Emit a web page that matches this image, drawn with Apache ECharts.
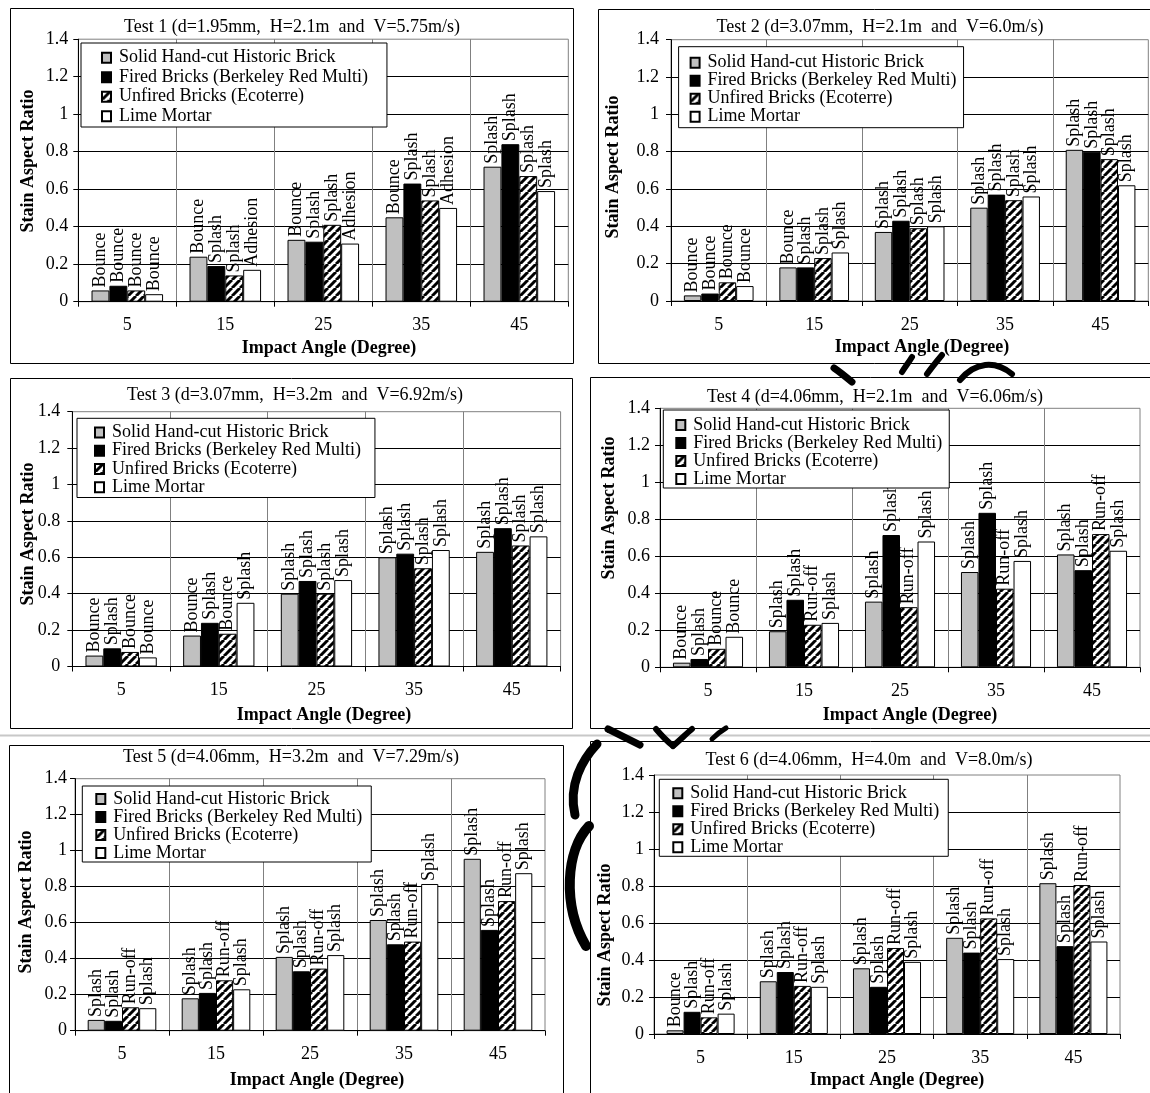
<!DOCTYPE html>
<html>
<head>
<meta charset="utf-8">
<script src="https://cdn.jsdelivr.net/npm/echarts@6/dist/echarts.min.js"></script>
<style>
html, body { margin: 0; padding: 0; background: #fff; }
#chart { width: 1150px; height: 1093px; }
</style>
</head>
<body>
<div id="chart"></div>
<script>
// ---- data -------------------------------------------------------------
const categories = ['5', '15', '25', '35', '45'];
const materials = [
  'Solid Hand-cut Historic Brick',
  'Fired Bricks (Berkeley Red Multi)',
  'Unfired Bricks (Ecoterre)',
  'Lime Mortar'
];
const testTitles = [
  'Test 1 (d=1.95mm,  H=2.1m  and  V=5.75m/s)',
  'Test 2 (d=3.07mm,  H=2.1m  and  V=6.0m/s)',
  'Test 3 (d=3.07mm,  H=3.2m  and  V=6.92m/s)',
  'Test 4 (d=4.06mm,  H=2.1m  and  V=6.06m/s)',
  'Test 5 (d=4.06mm,  H=3.2m  and  V=7.29m/s)',
  'Test 6 (d=4.06mm,  H=4.0m  and  V=8.0m/s)'
];
const xAxisTitle = 'Impact Angle (Degree)';
const yAxisTitle = 'Stain Aspect Ratio';

// Test 1
const t1Solid   = [0.06, 0.24, 0.33, 0.45, 0.72];
const t1Fired   = [0.085, 0.19, 0.32, 0.63, 0.84];
const t1Unfired = [0.06, 0.14, 0.41, 0.54, 0.67];
const t1Lime    = [0.04, 0.17, 0.31, 0.50, 0.59];
const t1SolidMode   = ['Bounce', 'Bounce', 'Bounce', 'Bounce', 'Splash'];
const t1FiredMode   = ['Bounce', 'Splash', 'Splash', 'Splash', 'Splash'];
const t1UnfiredMode = ['Bounce', 'Splash', 'Splash', 'Splash', 'Splash'];
const t1LimeMode    = ['Bounce', 'Adhesion', 'Adhesion', 'Adhesion', 'Splash'];

// Test 2
const t2Solid   = [0.03, 0.18, 0.37, 0.50, 0.81];
const t2Fired   = [0.04, 0.18, 0.43, 0.57, 0.80];
const t2Unfired = [0.10, 0.23, 0.39, 0.54, 0.76];
const t2Lime    = [0.08, 0.26, 0.40, 0.56, 0.62];
const t2SolidMode   = ['Bounce', 'Bounce', 'Splash', 'Splash', 'Splash'];
const t2FiredMode   = ['Bounce', 'Splash', 'Splash', 'Splash', 'Splash'];
const t2UnfiredMode = ['Bounce', 'Splash', 'Splash', 'Splash', 'Splash'];
const t2LimeMode    = ['Bounce', 'Splash', 'Splash', 'Splash', 'Splash'];

// Test 3
const t3Solid   = [0.06, 0.17, 0.40, 0.60, 0.63];
const t3Fired   = [0.10, 0.24, 0.47, 0.62, 0.76];
const t3Unfired = [0.08, 0.18, 0.40, 0.54, 0.665];
const t3Lime    = [0.05, 0.35, 0.475, 0.64, 0.715];
const t3SolidMode   = ['Bounce', 'Bounce', 'Splash', 'Splash', 'Splash'];
const t3FiredMode   = ['Splash', 'Splash', 'Splash', 'Splash', 'Splash'];
const t3UnfiredMode = ['Bounce', 'Bounce', 'Splash', 'Splash', 'Splash'];
const t3LimeMode    = ['Bounce', 'Splash', 'Splash', 'Splash', 'Splash'];

// Test 4
const t4Solid   = [0.025, 0.195, 0.355, 0.515, 0.61];
const t4Fired   = [0.045, 0.365, 0.715, 0.835, 0.525];
const t4Unfired = [0.10, 0.23, 0.325, 0.425, 0.72];
const t4Lime    = [0.165, 0.24, 0.68, 0.575, 0.63];
const t4SolidMode   = ['Bounce', 'Splash', 'Splash', 'Splash', 'Splash'];
const t4FiredMode   = ['Splash', 'Splash', 'Splash', 'Splash', 'Splash'];
const t4UnfiredMode = ['Bounce', 'Run-off', 'Run-off', 'Run-off', 'Run-off'];
const t4LimeMode    = ['Bounce', 'Splash', 'Splash', 'Splash', 'Splash'];

// Test 5
const t5Solid   = [0.06, 0.18, 0.41, 0.615, 0.955];
const t5Fired   = [0.055, 0.21, 0.33, 0.48, 0.56];
const t5Unfired = [0.13, 0.28, 0.345, 0.495, 0.72];
const t5Lime    = [0.125, 0.23, 0.42, 0.815, 0.875];
const t5SolidMode   = ['Splash', 'Splash', 'Splash', 'Splash', 'Splash'];
const t5FiredMode   = ['Splash', 'Splash', 'Splash', 'Splash', 'Splash'];
const t5UnfiredMode = ['Run-off', 'Run-off', 'Run-off', 'Run-off', 'Run-off'];
const t5LimeMode    = ['Splash', 'Splash', 'Splash', 'Splash', 'Splash'];

// Test 6
const t6Solid   = [0.02, 0.285, 0.355, 0.52, 0.815];
const t6Fired   = [0.12, 0.335, 0.255, 0.44, 0.475];
const t6Unfired = [0.09, 0.26, 0.465, 0.625, 0.805];
const t6Lime    = [0.11, 0.255, 0.39, 0.405, 0.50];
const t6SolidMode   = ['Bounce', 'Splash', 'Splash', 'Splash', 'Splash'];
const t6FiredMode   = ['Splash', 'Splash', 'Splash', 'Splash', 'Splash'];
const t6UnfiredMode = ['Run-off', 'Run-off', 'Run-off', 'Run-off', 'Run-off'];
const t6LimeMode    = ['Splash', 'Splash', 'Splash', 'Splash', 'Splash'];

const tests = [
  { values: [t1Solid, t1Fired, t1Unfired, t1Lime], modes: [t1SolidMode, t1FiredMode, t1UnfiredMode, t1LimeMode] },
  { values: [t2Solid, t2Fired, t2Unfired, t2Lime], modes: [t2SolidMode, t2FiredMode, t2UnfiredMode, t2LimeMode] },
  { values: [t3Solid, t3Fired, t3Unfired, t3Lime], modes: [t3SolidMode, t3FiredMode, t3UnfiredMode, t3LimeMode] },
  { values: [t4Solid, t4Fired, t4Unfired, t4Lime], modes: [t4SolidMode, t4FiredMode, t4UnfiredMode, t4LimeMode] },
  { values: [t5Solid, t5Fired, t5Unfired, t5Lime], modes: [t5SolidMode, t5FiredMode, t5UnfiredMode, t5LimeMode] },
  { values: [t6Solid, t6Fired, t6Unfired, t6Lime], modes: [t6SolidMode, t6FiredMode, t6UnfiredMode, t6LimeMode] }
];

// ---- layout of the six panels (pixels) -------------------------------
const layout = [
  { grid: [78.3, 39.2, 490, 262.5],   frame: [10.5, 8.5, 563, 355],  title: [292, 27],  xName: [329, 348],  yName: [28, 161],  yMargin: 10,
    legend: { left: 81, top: 43, pad: [5, 19, 1, 20], row: 19.5 } },
  { grid: [671, 39.7, 477.3, 261.3],  frame: [598.5, 9.5, 600, 354], title: [880, 27],  xName: [922, 347],  yName: [613, 167], yMargin: 12,
    legend: { left: 678.6, top: 46.7, pad: [7, 7, 2, 11], row: 17.3 } },
  { grid: [72.3, 411.7, 488.3, 254.8], frame: [10.5, 378.5, 562, 350], title: [295, 395], xName: [324, 715], yName: [28, 534], yMargin: 12,
    legend: { left: 77, top: 418.3, pad: [5, 14, 1, 17], row: 18.3 } },
  { grid: [660, 408.3, 480, 259],     frame: [590.5, 377.5, 600, 351], title: [875, 397], xName: [910, 715], yName: [609, 508], yMargin: 10,
    legend: { left: 663.3, top: 410, pad: [6, 7, 0, 12], row: 17.8 } },
  { grid: [75, 778.7, 470, 252],      frame: [9.5, 745.5, 554, 400], title: [291, 757], xName: [317, 1080], yName: [26, 902], yMargin: 8,
    legend: { left: 82.3, top: 786, pad: [4, 9, 0, 13], row: 17.7 } },
  { grid: [654, 775, 466, 259],       frame: [590.5, 741.5, 600, 400], title: [869, 760], xName: [897, 1080], yName: [605, 935], yMargin: 10,
    legend: { left: 659.3, top: 779.3, pad: [5, 9, 0, 13], row: 17.8 } }
];

const SERIF = '"Liberation Serif", "Times New Roman", serif';

// wide upward-diagonal hatch used for the unfired bricks
function hatchTile() {
  const s = 8;
  const c = document.createElement('canvas');
  c.width = s; c.height = s;
  const g = c.getContext('2d');
  g.fillStyle = '#fff';
  g.fillRect(0, 0, s, s);
  g.strokeStyle = '#000';
  g.lineWidth = 3;
  for (let k = -1; k <= 1; k++) {
    g.beginPath();
    g.moveTo(k * s, s);
    g.lineTo(k * s + s, 0);
    g.stroke();
  }
  return c;
}

const fills = ['#c0c0c0', '#000000', { image: hatchTile(), repeat: 'repeat' }, '#ffffff'];

const grids = [], xAxes = [], yAxes = [], legends = [], series = [], graphics = [];

layout.forEach((L, i) => {
  grids.push({
    left: L.grid[0], top: L.grid[1], width: L.grid[2], height: L.grid[3],
    show: true, borderColor: '#808080', borderWidth: 1, backgroundColor: 'transparent'
  });
  xAxes.push({
    type: 'category', gridIndex: i, data: categories,
    axisLine: { lineStyle: { color: '#000', width: 1 } },
    axisTick: { show: true, alignWithLabel: false, length: 5, lineStyle: { color: '#000' } },
    axisLabel: { interval: 0, margin: 15, color: '#000', fontFamily: SERIF, fontSize: 18 },
    splitLine: { show: true, showMinLine: false, showMaxLine: false, lineStyle: { color: '#808080', width: 1 } }
  });
  yAxes.push({
    type: 'value', gridIndex: i, min: 0, max: 1.4, interval: 0.2,
    axisLine: { show: true, lineStyle: { color: '#000', width: 1 } },
    axisTick: { show: true, length: 5, lineStyle: { color: '#000' } },
    axisLabel: { margin: L.yMargin, color: '#000', fontFamily: SERIF, fontSize: 18 },
    splitLine: { show: true, showMinLine: false, showMaxLine: false, lineStyle: { color: '#000', width: 1 } }
  });
  legends.push({
    orient: 'vertical', left: L.legend.left, top: L.legend.top,
    padding: L.legend.pad, itemGap: 0, itemWidth: 9, itemHeight: 10,
    borderColor: '#000', borderWidth: 1, backgroundColor: '#fff',
    selectedMode: false, icon: 'rect', data: materials,
    textStyle: { fontFamily: SERIF, fontSize: 18, color: '#000', lineHeight: L.legend.row, padding: [0, 0, 0, 3] }
  });

  const T = tests[i];
  materials.forEach((name, m) => {
    const modes = T.modes[m];
    series.push({
      type: 'bar', name, xAxisIndex: i, yAxisIndex: i,
      data: T.values[m],
      barGap: '0%', barCategoryGap: '27%',
      itemStyle: { color: fills[m], borderColor: '#000', borderWidth: 1 },
      label: {
        show: true, position: 'top', rotate: 90, align: 'left', verticalAlign: 'middle',
        distance: 3, color: '#000', fontFamily: SERIF, fontSize: 18,
        formatter: p => modes[p.dataIndex]
      },
      emphasis: { disabled: true },
      silent: true
    });
  });

  graphics.push({
    type: 'rect', silent: true, z: 0,
    shape: { x: L.frame[0], y: L.frame[1], width: L.frame[2], height: L.frame[3] },
    style: { fill: 'none', stroke: '#000', lineWidth: 1 }
  });
  graphics.push({
    type: 'text', silent: true, x: L.title[0], y: L.title[1],
    style: { text: testTitles[i], align: 'center', verticalAlign: 'middle', fill: '#000', font: '18px ' + SERIF }
  });
  graphics.push({
    type: 'text', silent: true, x: L.xName[0], y: L.xName[1],
    style: { text: xAxisTitle, align: 'center', verticalAlign: 'middle', fill: '#000', font: 'bold 18px ' + SERIF }
  });
  graphics.push({
    type: 'text', silent: true, x: L.yName[0], y: L.yName[1], rotation: Math.PI / 2,
    style: { text: yAxisTitle, align: 'center', verticalAlign: 'middle', fill: '#000', font: 'bold 18px ' + SERIF }
  });
});

// faint page edge between the middle and bottom rows
graphics.push({
  type: 'line', silent: true,
  shape: { x1: 0, y1: 735.5, x2: 1150, y2: 735.5 },
  style: { stroke: '#c8c8c8', lineWidth: 2 }
});

// fragments of the large background emblem that show between the panels
const inkStroke = { stroke: '#000', fill: 'none', lineCap: 'round' };
const emblemCurves = [
  // big swash left of the bottom-right panel
  { x1: 597, y1: 744, cpx1: 582, cpy1: 760, cpx2: 568, cpy2: 785, x2: 575, y2: 815, w: 9 },
  { x1: 589, y1: 826, cpx1: 566, cpy1: 850, cpx2: 562, cpy2: 905, x2: 586, y2: 946, w: 10 },
  // marks above the bottom-right panel
  { x1: 608, y1: 729, cpx1: 620, cpy1: 735, cpx2: 630, cpy2: 740, x2: 640, y2: 745, w: 7 },
  { x1: 656, y1: 729, cpx1: 662, cpy1: 736, cpx2: 668, cpy2: 742, x2: 673, y2: 746, w: 6 },
  { x1: 673, y1: 746, cpx1: 680, cpy1: 740, cpx2: 686, cpy2: 734, x2: 692, y2: 729, w: 6 },
  { x1: 712, y1: 739, cpx1: 716, cpy1: 735, cpx2: 721, cpy2: 731, x2: 726, y2: 728, w: 5 },
  // marks between the top-right and middle-right panels
  { x1: 834, y1: 368, cpx1: 840, cpy1: 372, cpx2: 846, cpy2: 377, x2: 852, y2: 382, w: 7 },
  { x1: 902, y1: 372, cpx1: 905, cpy1: 367, cpx2: 909, cpy2: 362, x2: 912, y2: 357, w: 6 },
  { x1: 927, y1: 374, cpx1: 932, cpy1: 367, cpx2: 937, cpy2: 361, x2: 942, y2: 355, w: 6 },
  { x1: 960, y1: 380, cpx1: 975, cpy1: 362, cpx2: 995, cpy2: 360, x2: 1012, y2: 374, w: 6 }
];
emblemCurves.forEach(c => {
  graphics.push({
    type: 'bezierCurve', silent: true, z: 10,
    shape: { x1: c.x1, y1: c.y1, cpx1: c.cpx1, cpy1: c.cpy1, cpx2: c.cpx2, cpy2: c.cpy2, x2: c.x2, y2: c.y2 },
    style: Object.assign({ lineWidth: c.w }, inkStroke)
  });
});

const chart = echarts.init(document.getElementById('chart'), null, { renderer: 'canvas' });
chart.setOption({
  animation: false,
  backgroundColor: '#fff',
  grid: grids,
  xAxis: xAxes,
  yAxis: yAxes,
  legend: legends,
  series: series,
  graphic: graphics
});
</script>
</body>
</html>
